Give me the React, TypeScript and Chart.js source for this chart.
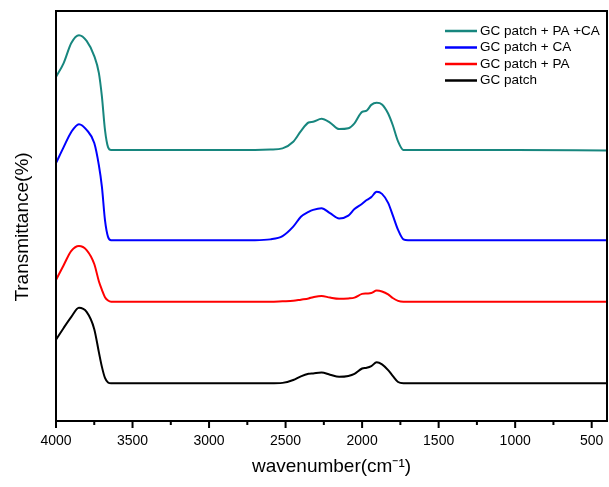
import React, { useEffect, useRef } from 'react';
import Chart from 'chart.js/auto';

// wavenumber (cm-1) sample points, shared by all four spectra
const wavenumbers = [
  4000, 3950, 3900, 3850, 3800, 3750, 3720, 3700, 3680, 3660, 3640, 3000, 2700, 2600,
  2520, 2450, 2400, 2350, 2320, 2265, 2210, 2150, 2090, 2050, 2000, 1970, 1940, 1905,
  1870, 1830, 1800, 1765, 1730, 1700, 1000, 400,
];

// transmittance, offset stacked (arbitrary units)
const gcPatchPACA = [
  83.9, 87.3, 92.2, 94.1, 92.7, 89.0, 84.9, 79.1, 71.0, 66.8, 66.1, 66.1, 66.1, 66.2,
  66.5, 68.1, 70.7, 72.8, 73.0, 73.7, 72.8, 71.2, 71.4, 72.6, 75.4, 75.7, 77.1, 77.6,
  77.2, 75.0, 72.2, 68.2, 66.1, 66.1, 66.1, 66.0,
];
const gcPatchCA = [
  62.9, 66.8, 70.5, 72.4, 71.0, 67.8, 62.4, 57.1, 49.0, 44.9, 44.1, 44.1, 44.1, 44.3,
  45.1, 47.4, 49.8, 51.0, 51.5, 51.9, 50.7, 49.4, 50.1, 51.7, 53.0, 53.9, 54.6, 55.9,
  55.4, 53.2, 50.2, 46.6, 44.3, 44.1, 44.1, 44.1,
];
const gcPatchPA = [
  34.4, 38.0, 41.5, 42.7, 41.7, 38.3, 34.1, 32.0, 30.2, 29.4, 29.1, 29.1, 29.1, 29.1,
  29.2, 29.3, 29.6, 29.9, 30.2, 30.5, 30.1, 29.8, 29.9, 30.1, 31.0, 31.1, 31.2, 31.8,
  31.6, 30.9, 30.0, 29.3, 29.1, 29.1, 29.1, 29.1,
];
const gcPatch = [
  19.8, 22.7, 25.4, 27.6, 26.6, 22.4, 16.8, 13.2, 10.5, 9.4, 9.2, 9.2, 9.2, 9.2,
  9.3, 10.0, 10.9, 11.5, 11.6, 11.8, 11.3, 10.8, 11.0, 11.5, 12.8, 13.0, 13.4, 14.3,
  13.8, 12.4, 11.0, 9.5, 9.2, 9.2, 9.2, 9.2,
];

const seriesLabels = ['GC patch + PA +CA', 'GC patch + CA', 'GC patch + PA', 'GC patch'];
const seriesColors = ['#17867e', '#0000ff', '#ff0000', '#000000'];
const seriesValues = [gcPatchPACA, gcPatchCA, gcPatchPA, gcPatch];

const majorTicks = [4000, 3500, 3000, 2500, 2000, 1500, 1000, 500];
const minorTicks = [3750, 3250, 2750, 2250, 1750, 1250, 750];

const FONT = 'Arial, "Liberation Sans", sans-serif';
const Y_TITLE = 'Transmittance(%)';

// box around the plot, tick marks on the x axis, y title
const framePlugin = {
  id: 'frame',
  afterDatasetsDraw(chart: any) {
    const { ctx, chartArea, scales } = chart;
    ctx.save();
    ctx.strokeStyle = '#000';
    ctx.lineWidth = 2;
    ctx.strokeRect(chartArea.left, chartArea.top, chartArea.right - chartArea.left, chartArea.bottom - chartArea.top);
    const x = scales.x;
    ctx.beginPath();
    majorTicks.concat(minorTicks).forEach((v) => {
      const px = x.getPixelForValue(v);
      const len = majorTicks.includes(v) ? 7 : 4;
      ctx.moveTo(px, chartArea.bottom);
      ctx.lineTo(px, chartArea.bottom + len);
    });
    ctx.stroke();

    // y title sits a little below the middle in the original
    ctx.translate(23, (chartArea.top + chartArea.bottom) / 2 + 11);
    ctx.rotate(-Math.PI / 2);
    ctx.font = `19px ${FONT}`;
    ctx.fillStyle = '#000';
    ctx.textAlign = 'center';
    ctx.textBaseline = 'middle';
    ctx.fillText(Y_TITLE, 0, 0);
    ctx.restore();
  },
};

// legend drawn inside the plot, top right
const legendPlugin = {
  id: 'insideLegend',
  afterDraw(chart: any) {
    const { ctx, chartArea } = chart;
    ctx.save();
    ctx.font = `13.5px ${FONT}`;
    ctx.textBaseline = 'middle';
    chart.data.datasets.forEach((ds: any, i: number) => {
      const y = chartArea.top + 20 + i * 16.5;
      const x0 = chartArea.right - 162;
      ctx.strokeStyle = ds.borderColor;
      ctx.lineWidth = 2.5;
      ctx.beginPath();
      ctx.moveTo(x0, y);
      ctx.lineTo(x0 + 32, y);
      ctx.stroke();
      ctx.fillStyle = '#000';
      ctx.fillText(ds.label, x0 + 35, y);
    });
    ctx.restore();
  },
};

export default function App() {
  const canvasRef = useRef<HTMLCanvasElement | null>(null);

  useEffect(() => {
    if (!canvasRef.current) return;
    const chart = new Chart(canvasRef.current, {
      type: 'line',
      data: {
        datasets: seriesValues.map((vals, i) => ({
          label: seriesLabels[i],
          data: wavenumbers.map((w, j) => ({ x: w, y: vals[j] })),
          borderColor: seriesColors[i],
          backgroundColor: seriesColors[i],
          borderWidth: 2,
          pointRadius: 0,
          cubicInterpolationMode: 'monotone' as const,
        })),
      },
      options: {
        animation: false,
        responsive: false,
        layout: { padding: { top: 11, right: 2, left: 0, bottom: 0 } },
        plugins: { legend: { display: false }, tooltip: { enabled: false } },
        scales: {
          x: {
            type: 'linear',
            reverse: true,
            min: 400,
            max: 4000,
            afterBuildTicks: (scale: any) => {
              scale.ticks = majorTicks.slice().reverse().map((v) => ({ value: v }));
            },
            afterFit: (scale: any) => {
              scale.height = 66;
            },
            grid: { display: false, drawTicks: false },
            border: { display: false },
            ticks: {
              padding: 12,
              color: '#000',
              maxRotation: 0,
              font: { family: FONT, size: 14 },
              callback: (v: any) => String(v),
            },
            title: {
              display: true,
              text: 'wavenumber(cm\u207B\u00B9)',
              color: '#000',
              font: { family: FONT, size: 19 },
              padding: { top: 0, bottom: 9 },
            },
          },
          y: {
            min: 0,
            max: 100,
            afterFit: (scale: any) => {
              scale.width = 56;
            },
            grid: { display: false, drawTicks: false },
            border: { display: false },
            ticks: { display: false },
          },
        },
      },
      plugins: [framePlugin, legendPlugin],
    });
    return () => chart.destroy();
  }, []);

  return (
    <div style={{ position: 'fixed', left: 0, top: 0, width: 609, height: 487, background: '#fff' }}>
      <canvas ref={canvasRef} width={609} height={487} />
    </div>
  );
}
